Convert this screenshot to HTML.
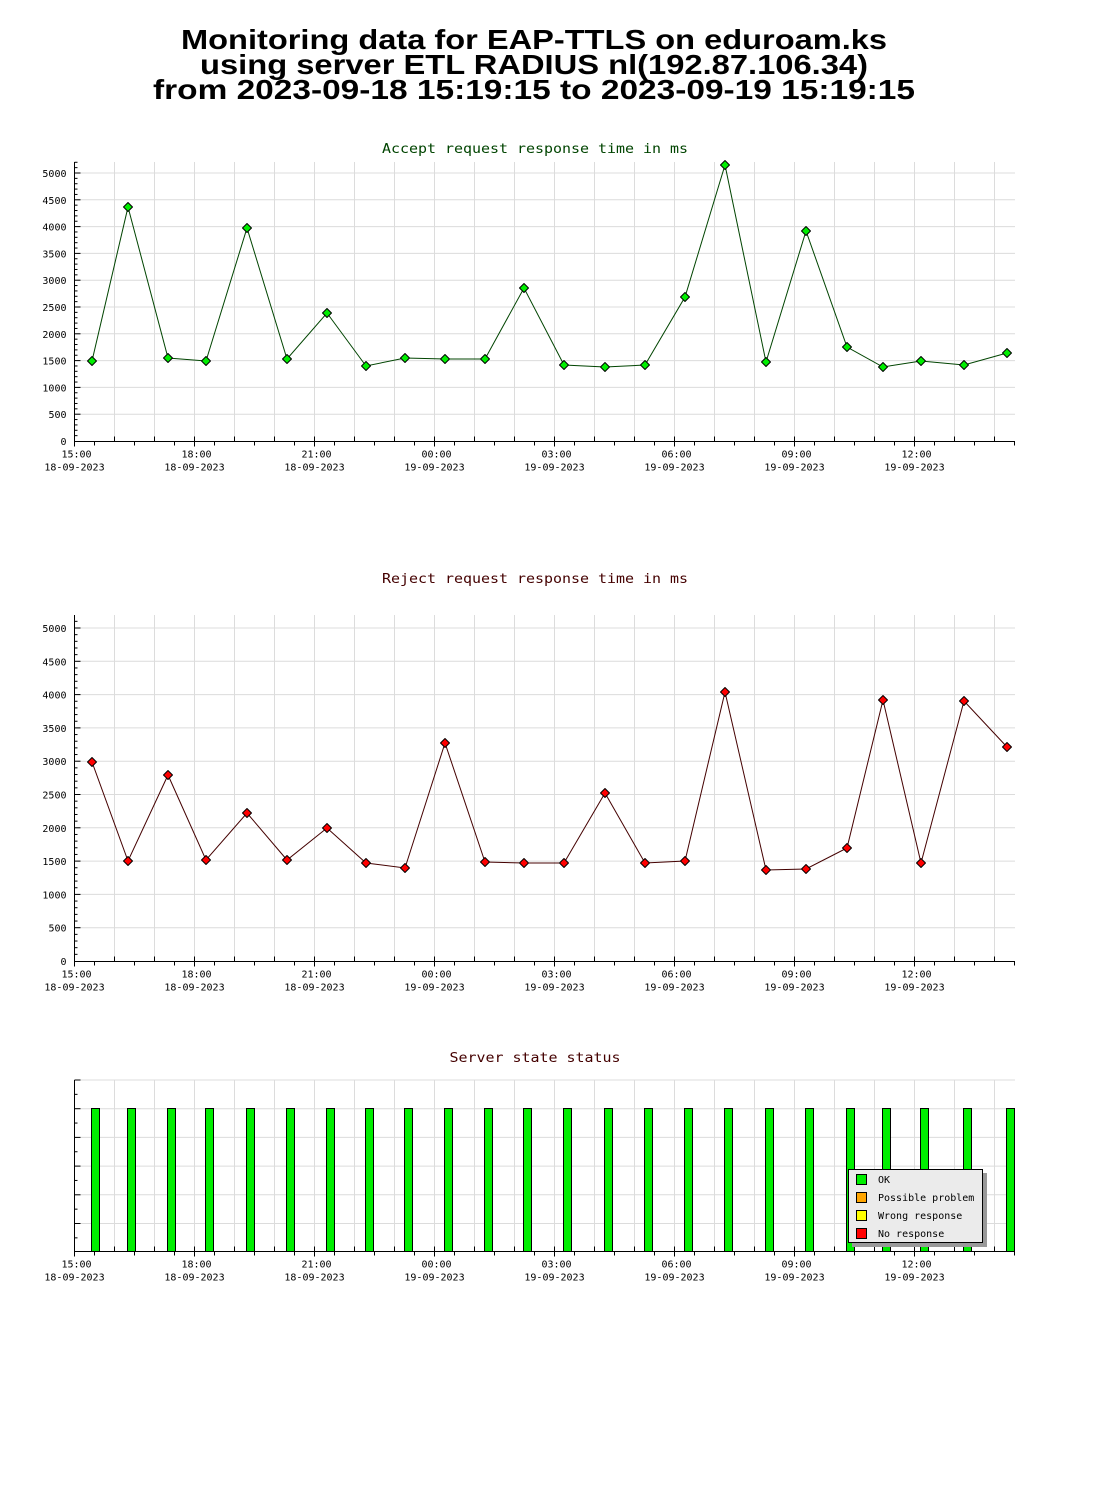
<!DOCTYPE html>
<html><head><meta charset="utf-8"><style>
html,body{margin:0;padding:0;background:#fff;}
svg{display:block;}
.mono{font-family:"DejaVu Sans Mono","Liberation Mono",monospace;}
</style></head><body>
<svg id="s" width="1100" height="1500" xmlns="http://www.w3.org/2000/svg">
<g font-family="Liberation Sans, sans-serif" font-weight="bold" font-size="28" text-anchor="middle" fill="#000">
<text x="534" y="49" textLength="706" lengthAdjust="spacingAndGlyphs">Monitoring data for EAP-TTLS on eduroam.ks</text>
<text x="534" y="74" textLength="668" lengthAdjust="spacingAndGlyphs">using server ETL RADIUS nl(192.87.106.34)</text>
<text x="534" y="99" textLength="762" lengthAdjust="spacingAndGlyphs">from 2023-09-18 15:19:15 to 2023-09-19 15:19:15</text>
</g>
</svg>
<script>
var s=document.getElementById('s'),NS='http://www.w3.org/2000/svg';
function el(t,a,txt){var e=document.createElementNS(NS,t);for(var k in a)e.setAttribute(k,a[k]);if(txt!=null)e.textContent=txt;s.appendChild(e);return e;}
var X0=74.5,X1=1015;
var xs=[92,128,168,206,247,287,327,366,405,445,485,524,564,605,645,685,725,766,806,847,883,921,964,1007];
function xaxis(yb){
  for(var x=X0+40;x<=X1;x+=40)el('line',{x1:x,y1:yb,x2:x,y2:yb-5,stroke:'#000'});
  for(var x=X0+20;x<=X1;x+=40)el('line',{x1:x,y1:yb,x2:x,y2:yb+4,stroke:'#000'});
  var labs=['15:00','18:00','21:00','00:00','03:00','06:00','09:00','12:00'];
  var ds=['18-09-2023','18-09-2023','18-09-2023','19-09-2023','19-09-2023','19-09-2023','19-09-2023','19-09-2023'];
  for(var i=0;i<8;i++){var x=X0+i*120;
    el('line',{x1:x,y1:yb,x2:x,y2:yb+5,stroke:'#000'});
    el('text',{x:x+2,y:yb+16,'text-anchor':'middle','font-size':'10','class':'mono'},labs[i]);
    el('text',{x:x,y:yb+29,'text-anchor':'middle','font-size':'10','class':'mono'},ds[i]);}
}
function title(y,t,c,len){el('text',{x:535,y:y,'text-anchor':'middle','font-size':'13','class':'mono',fill:c,textLength:len,lengthAdjust:'spacingAndGlyphs'},t);}
function chart(top,ty,y0,y5000,t,tcol,ys,fill,lcol){
  var per=(y0-y5000)/5000;
  title(ty,t,tcol,306);
  for(var x=X0+40;x<=X1;x+=40)el('line',{x1:x,y1:top,x2:x,y2:y0,stroke:'#dcdcdc'});
  for(var v=500;v<=5000;v+=500){var y=y0-v*per;el('line',{x1:X0,y1:y,x2:X1,y2:y,stroke:'#dcdcdc'});}
  for(var v=100;v*per+0<=y0-top;v+=100){var y=y0-v*per;el('line',{x1:X0,y1:y,x2:X0+(v%500?3:6),y2:y,stroke:'#000'});}
  for(var v=0;v<=5000;v+=500){var y=y0-v*per;el('text',{x:X0-8,y:y+4,'text-anchor':'end','font-size':'10','class':'mono'},String(v));}
  el('line',{x1:X0,y1:top,x2:X0,y2:y0+0.5,stroke:'#000'});
  el('line',{x1:X0,y1:y0+0.5,x2:X1,y2:y0+0.5,stroke:'#000'});
  xaxis(y0+0.5);
  var p='';for(var i=0;i<xs.length;i++)p+=(i?'L':'M')+xs[i]+','+ys[i];
  el('path',{d:p,fill:'none',stroke:lcol,'stroke-width':'1'});
  for(var i=0;i<xs.length;i++){var x=xs[i],y=ys[i];
    el('path',{d:'M'+x+','+(y-4.5)+'L'+(x+4.5)+','+y+'L'+x+','+(y+4.5)+'L'+(x-4.5)+','+y+'Z',fill:fill,stroke:'#000','stroke-width':'1','stroke-linejoin':'round'});}
}
chart(162,153,441,173,'Accept request response time in ms','#004400',
 [361,207,358,361,228,359,313,366,358,359,359,288,365,367,365,297,165,362,231,347,367,361,365,353],'#00ee00','#004400');
chart(615,583,961,628,'Reject request response time in ms','#440000',
 [762,861,775,860,813,860,828,863,868,743,862,863,863,793,863,861,692,870,869,848,700,863,701,747],'#ff0000','#440000');
(function(){var top=1080,yb=1251.5;
 title(1062,'Server state status','#440000',171);
 for(var x=X0+40;x<=X1;x+=40)el('line',{x1:x,y1:top,x2:x,y2:yb,stroke:'#dcdcdc'});
 for(var i=0;i<6;i++){var y=top+i*28.7;el('line',{x1:X0,y1:y,x2:X1,y2:y,stroke:'#dcdcdc'});el('line',{x1:X0,y1:y,x2:X0+6,y2:y,stroke:'#000'});}
 for(var i=0;i<6;i++){var y=top+14.35+i*28.7;el('line',{x1:X0,y1:y,x2:X0+3,y2:y,stroke:'#000'});}
 for(var i=0;i<xs.length;i++){var x=xs[i];el('rect',{x:x-0.5,y:1108.5,width:8,height:143,fill:'#00ee00',stroke:'#000'});}
 el('line',{x1:X0,y1:top,x2:X0,y2:yb,stroke:'#000'});
 el('line',{x1:X0,y1:yb,x2:X1,y2:yb,stroke:'#000'});
 xaxis(yb);
 el('rect',{x:852,y:1173,width:135,height:74,fill:'#999'});
 el('rect',{x:848.5,y:1169.5,width:134,height:73,fill:'#ebebeb',stroke:'#000'});
 var L=[['OK','#00ee00'],['Possible problem','#ffa500'],['Wrong response','#ffff00'],['No response','#ff0000']];
 for(var i=0;i<4;i++){var y=1174+i*18;
  el('rect',{x:856.5,y:y+0.5,width:10,height:10,fill:L[i][1],stroke:'#000'});
  el('text',{x:878,y:y+9,'font-size':'10','class':'mono'},L[i][0]);}
})();
</script>
</body></html>
